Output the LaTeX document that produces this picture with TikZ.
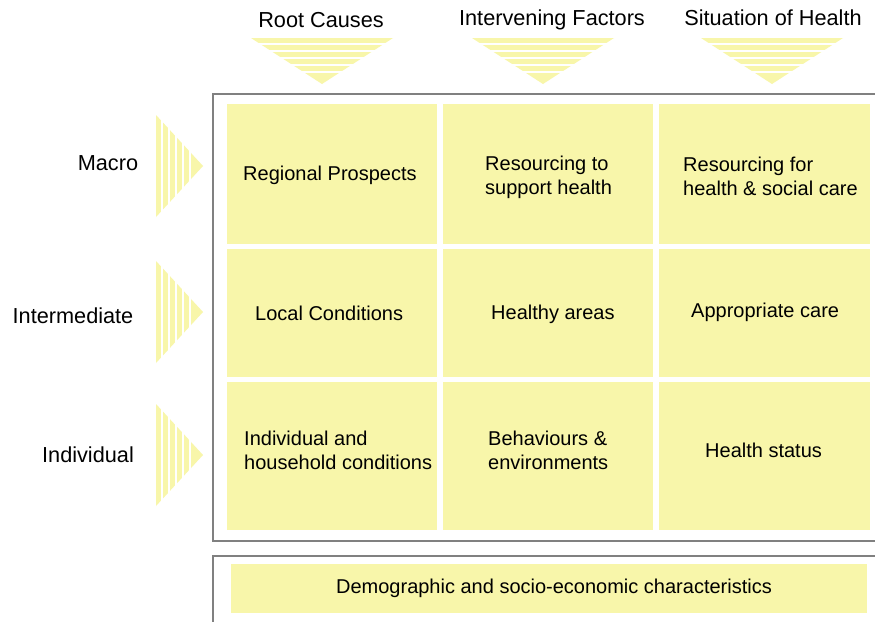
\documentclass[tikz,border=0pt]{standalone}
\usepackage{fontspec}
\setmainfont{Liberation Sans}
\usepackage{tikz}
\usetikzlibrary{positioning}
\definecolor{paleyellow}{RGB}{248, 246, 170}
\definecolor{framegray}{RGB}{128, 128, 128}

\begin{document}
\begin{tikzpicture}[
    x=1pt, y=-1pt,
    every node/.style={font=\fontsize{20}{24}\selectfont, inner sep=0pt},
    head/.style={font=\fontsize{21.7}{26}\selectfont},
    cell/.style={fill=paleyellow, anchor=north west, minimum width=210, draw=none},
    celltext/.style={anchor=west, align=left},
    frame/.style={draw=framegray, line width=1.2pt},
    stripe/.style={white, line width=1.8pt}
]
    \useasboundingbox (0,0) rectangle (875,621);
    \fill[white] (0,0) rectangle (875,621);

    % column headers with striped triangles
    \foreach \cx/\tx/\hy/\name/\txt in {321/322/20/root/Root Causes, 552/543/20/interv/Intervening Factors, 773/772/18/situ/Situation of Health} {
        \node[head] (\name) at (\cx,\hy) {\txt};
        \fill[paleyellow] (\tx-71,38) -- (\tx+71,38) -- (\tx,84) -- cycle;
        \foreach \sy in {44,51,58,65,72}
            \draw[stripe] (\tx-75,\sy) -- (\tx+75,\sy);
    }

    % row labels with striped triangles
    \foreach \cy/\lx/\ly/\name/\txt in {166/108/163/macro/Macro, 312/73/316/inter/Intermediate, 455/88/455/indiv/Individual} {
        \node[head] (\name) at (\lx,\ly) {\txt};
        \fill[paleyellow] (156,\cy-51) -- (156,\cy+51) -- (203,\cy) -- cycle;
        \foreach \sx in {162,169,176,183,190}
            \draw[stripe] (\sx,\cy-55) -- (\sx,\cy+55);
    }

    \draw[frame] (213,94) rectangle (878,541);
    \draw[frame] (213,556) rectangle (878,625);

    % grid of cells
    \node[cell, minimum height=140] (rootMacro) at (227,104) {};
    \node[cell, minimum height=140] (intervMacro) at (443,104) {};
    \node[cell, minimum height=140, minimum width=211] (situMacro) at (659,104) {};
    \node[cell, minimum height=128] (rootInter) at (227,249) {};
    \node[cell, minimum height=128] (intervInter) at (443,249) {};
    \node[cell, minimum height=128, minimum width=211] (situInter) at (659,249) {};
    \node[cell, minimum height=148] (rootIndiv) at (227,382) {};
    \node[cell, minimum height=148] (intervIndiv) at (443,382) {};
    \node[cell, minimum height=148, minimum width=211] (situIndiv) at (659,382) {};

    \node[celltext] (tRootMacro) at (243,175) {Regional Prospects};
    \node[celltext] (tIntervMacro) at (485,177) {Resourcing to\\support health};
    \node[celltext] (tSituMacro) at (683,176) {Resourcing for\\health \& social care};
    \node[celltext] (tRootInter) at (255,313) {Local Conditions};
    \node[celltext] (tIntervInter) at (491,314) {Healthy areas};
    \node[celltext] (tSituInter) at (691,312) {Appropriate care};
    \node[celltext] (tRootIndiv) at (244,450) {Individual and\\household conditions};
    \node[celltext] (tIntervIndiv) at (488,450) {Behaviours \&\\environments};
    \node[celltext] (tSituIndiv) at (705,450) {Health status};

    \node[cell, minimum width=636, minimum height=49] (demo) at (231,564) {};
    \node (tDemo) at (554,588) {Demographic and socio-economic characteristics};
\end{tikzpicture}
\end{document}
